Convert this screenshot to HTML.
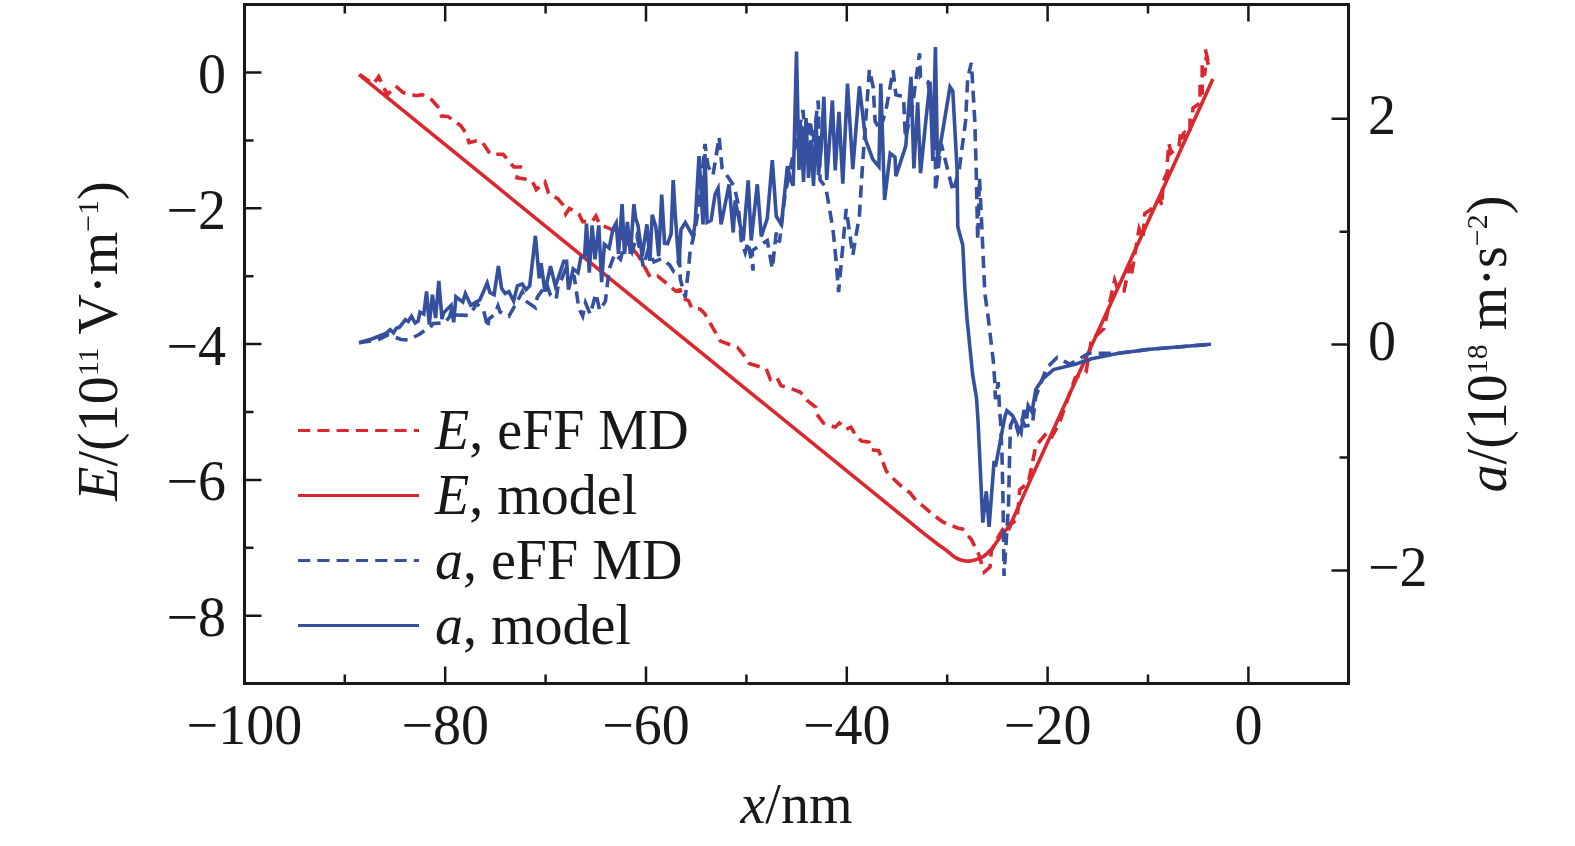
<!DOCTYPE html>
<html><head><meta charset="utf-8"><style>html,body{margin:0;padding:0;background:#fff;width:1575px;height:846px;overflow:hidden}svg{display:block;will-change:transform} text{-webkit-font-smoothing:antialiased} .rot{will-change:transform}</style></head>
<body><svg width="1575" height="846" viewBox="0 0 1575 846">
<path d="M359.6,74.5 373.4,84.0 378.7,76.6 387.2,94.7 395.7,86.2 403.2,92.6 416.0,95.7 422.3,94.7 431.9,100.0 439.4,108.5 441.5,116.0 447.9,116.4 460.6,125.5 466.0,133.0 469.1,142.6 475.5,141.0 481.9,141.5 490.4,154.3 503.2,154.3 513.8,167.0 520.2,167.0 517.0,177.7 530.0,179.8 532.6,181.9 536.3,189.5 544.9,181.9 548.6,193.2 558.0,198.9 562.8,204.6 565.7,214.0 569.4,208.4 578.9,214.0 582.7,221.6 592.1,221.6 595.9,216.0 599.7,224.4 611.0,229.2 622.4,238.6 633.7,250.0 638.5,256.0 642.8,263.4 650.2,277.2 657.7,276.2 668.3,284.7 675.7,291.1 680.0,290.0 683.2,298.5 688.5,300.6 691.7,308.1 700.2,309.1 704.5,313.4 716.2,333.6 720.4,341.1 737.4,347.4 742.8,353.8 749.1,363.4 766.2,368.7 770.4,379.4 776.8,377.2 781.0,385.7 791.7,388.9 800.2,392.1 807.4,400.6 816.0,407.4 817.0,414.5 823.4,423.0 835.1,427.2 839.4,423.0 845.7,429.4 851.0,427.2 856.4,436.8 861.7,441.1 869.1,442.1 871.3,449.6 878.7,450.6 881.9,459.1 886.2,470.9 889.4,475.1 902.8,487.7 909.9,492.7 915.6,499.8 934.0,515.4 942.6,521.8 958.2,528.2 962.4,528.9 971.4,539.6 978.5,553.8 984.2,572.0 990.0,567.0 991.3,551.0 998.4,536.7 1002.6,529.6 1007.0,533.0 1011.1,524.0 1016.8,519.7 1018.9,501.3 1019.6,489.9 1028.2,482.8 1031.0,470.0 1035.8,446.0 1045.0,435.0 1050.0,440.0 1059.0,424.0 1075.2,377.8 1086.0,372.3 1091.5,339.7 1103.8,328.8 1114.6,280.0 1118.4,291.0 1124.0,291.0 1129.7,264.5 1131.6,274.0 1139.1,228.6 1142.9,238.0 1144.8,213.5 1150.5,209.7 1160.0,198.4 1161.8,205.9 1163.0,182.0 1167.4,172.0 1167.4,161.0 1169.0,143.5 1171.0,153.0 1179.0,146.0 1181.0,130.0 1184.0,132.0 1182.0,138.0 1190.0,134.0 1190.0,116.0 1191.4,126.0 1193.0,108.0 1200.0,103.0 1200.0,85.0 1202.2,94.6 1202.2,65.0 1204.6,75.6 1206.3,56.6 1208.8,66.5 1207.1,56.6 1204.6,46.6" fill="none" stroke="#d9282e" stroke-width="3.6" stroke-dasharray="12.2 7.1"/>
<path d="M359.0,74.6 C406.0,112.8 453.0,151.0 500.0,189.2 C556.8,235.4 636.7,300.2 700.0,351.7 C763.3,403.1 846.7,470.8 880.0,497.9 C913.3,525.0 893.3,508.7 900.0,514.1 C906.7,519.5 914.3,525.8 920.0,530.4 C925.7,535.0 929.5,537.9 934.2,541.5 C938.9,545.1 944.9,549.3 948.4,552.0 C951.9,554.7 953.1,556.2 955.5,557.6 C957.9,559.0 960.2,559.8 962.6,560.4 C965.0,561.0 967.2,561.3 969.6,561.1 C972.0,560.9 974.3,560.2 976.7,559.4 C979.1,558.6 981.4,557.8 983.8,556.2 C986.2,554.6 988.2,552.9 990.9,549.8 C993.6,546.7 996.7,541.9 1000.0,537.5 C1003.3,533.1 1007.2,529.2 1010.6,523.3 C1014.0,517.4 1017.3,509.2 1020.6,502.0 C1023.9,494.8 1027.2,487.2 1030.4,480.0 C1033.6,472.8 1028.4,484.4 1040.0,458.9 C1051.6,433.4 1080.0,371.0 1100.0,327.1 C1120.0,283.2 1141.2,236.7 1160.0,195.3 C1177.6,156.5 1195.3,117.8 1212.9,79.0" fill="none" stroke="#d9282e" stroke-width="3.6"/>
<path d="M359.0,342.8 378.0,340.0 388.0,335.0 392.0,336.0 401.0,339.5 408.0,340.0 420.0,334.0 425.0,330.0 430.0,328.0 433.0,323.4 444.7,323.0 449.5,317.0 451.6,309.6 455.3,315.0 468.1,315.4 473.9,308.5 476.1,303.2 483.5,310.1 487.8,327.7 488.8,319.1 495.2,313.8 498.0,306.0 500.0,312.0 508.9,316.2 516.5,302.9 522.2,291.6 525.9,301.1 535.4,307.7 537.3,297.3 546.7,284.0 550.5,295.4 556.2,299.2 558.1,285.9 561.9,278.4 565.7,268.9 574.2,276.5 578.9,308.6 582.7,316.2 585.5,302.9 590.2,314.3 595.9,293.5 599.7,310.5 605.4,301.1 609.2,268.9 614.8,253.8 620.5,259.4 626.0,238.0 632.0,252.0 637.0,236.0 643.4,266.8 648.0,250.0 654.0,262.0 661.9,258.6 669.7,265.0 673.2,270.7 679.6,259.4 680.3,279.2 685.3,297.6 688.1,272.1 690.2,250.9 695.2,229.6 699.0,205.0 705.0,144.0 708.0,166.0 713.0,175.2 719.1,137.1 722.1,168.2 734.2,186.3 738.2,204.4 741.2,240.5 745.2,252.6 748.0,242.0 753.2,270.6 752.2,250.6 767.3,240.5 772.3,268.6 776.3,232.5 779.4,242.5 785.0,195.0 792.0,160.0 797.0,140.0 803.0,110.0 806.0,150.0 810.0,120.0 813.1,142.6 818.2,100.5 820.1,179.9 825.8,187.4 832.9,228.7 836.2,261.9 838.6,292.0 846.2,208.9 852.8,255.2 859.4,215.5 862.7,162.5 869.4,69.7 873.2,87.3 875.1,121.3 880.0,130.0 886.0,110.0 893.1,70.2 895.9,94.8 903.5,96.7 905.4,138.3 912.0,110.0 919.5,53.2 920.5,77.8 928.0,81.6 935.6,134.5 935.4,191.5 941.3,144.0 953.1,191.5 959.2,170.0 962.8,142.2 965.6,120.9 967.7,78.4 971.3,62.8 972.0,72.7 974.8,120.9 976.2,170.0 977.7,240.0 979.5,178.0 981.5,220.0 984.8,292.8 988.3,318.4 991.1,342.5 993.3,360.9 994.7,380.8 995.4,399.2 998.2,382.2 999.6,410.0 1000.5,421.0 1002.0,455.0 1003.0,500.0 1004.0,576.0 1008.5,505.0 1009.5,460.0 1010.5,425.5 1014.0,418.0 1018.0,432.0 1022.0,420.0 1025.2,426.0 1032.3,424.9 1035.8,396.5 1046.5,368.0 1057.1,357.4 1064.4,361.4 1069.8,364.2 1088.8,353.3 1118.7,353.3 1150.0,349.2 1211.0,344.3" fill="none" stroke="#34509f" stroke-width="3.6" stroke-dasharray="12.2 7.1" stroke-linejoin="miter"/>
<path d="M359.0,342.8 371.7,339.0 385.9,333.4 390.2,329.6 393.5,332.9 396.3,328.2 399.6,327.2 405.3,319.6 408.2,321.5 411.5,316.3 415.2,323.0 418.1,321.1 420.0,312.1 423.8,314.0 426.6,291.5 429.3,324.5 432.4,294.7 435.6,318.1 438.8,280.9 442.0,319.1 443.6,312.8 451.1,305.3 453.7,322.3 455.9,296.8 462.8,302.1 465.4,293.6 470.7,305.3 476.1,302.1 479.8,300.0 487.2,283.0 489.9,292.6 494.1,294.7 498.4,266.0 501.6,288.3 505.1,293.5 508.9,291.6 513.6,301.1 517.4,285.9 522.2,284.0 525.9,289.7 529.7,285.9 535.4,235.8 539.2,278.4 541.1,263.2 544.9,291.6 550.5,266.1 555.3,285.9 558.1,278.4 563.8,261.3 566.6,261.3 568.5,289.7 573.2,268.9 578.0,272.7 580.8,257.5 584.6,255.7 586.5,223.5 589.3,272.7 592.1,225.4 595.0,259.4 598.8,225.4 601.6,282.1 604.4,244.3 609.2,248.1 612.9,229.2 616.2,223.1 618.5,253.8 622.1,204.2 624.5,253.8 627.4,221.9 630.4,253.8 633.9,204.2 635.7,218.4 638.0,225.5 642.2,256.2 646.9,224.3 649.9,260.9 652.2,214.8 655.8,226.6 658.7,256.2 661.7,194.7 664.6,243.2 667.6,243.8 671.1,233.8 673.2,180.0 675.3,215.4 678.9,265.0 681.0,229.6 685.3,222.5 693.1,236.7 695.2,222.5 699.0,156.2 703.0,224.4 705.0,154.1 707.1,222.4 711.1,220.4 715.1,194.3 718.1,188.3 721.1,224.4 725.1,204.4 729.1,184.3 733.2,232.5 735.2,200.3 743.2,240.5 748.2,180.3 751.2,240.5 757.3,184.3 761.3,236.5 767.3,218.4 772.3,160.2 776.3,216.4 781.4,224.4 787.4,166.2 790.5,180.0 793.2,185.7 796.5,51.5 799.0,170.0 801.0,125.0 803.5,182.0 806.0,118.0 808.5,178.0 811.0,140.0 813.5,186.0 816.0,122.0 818.5,175.0 821.0,150.0 823.9,96.7 826.7,179.9 832.4,100.5 835.2,170.4 839.0,111.8 842.8,183.7 847.5,83.5 852.8,169.1 859.4,86.3 865.7,140.0 872.7,159.2 878.9,166.7 880.8,83.5 884.6,200.0 890.2,153.4 895.0,157.2 895.9,176.1 905.8,145.9 911.0,76.9 913.9,168.5 917.7,102.4 920.5,173.3 925.2,127.0 930.0,81.6 932.8,161.0 935.4,47.1 937.5,161.0 941.3,139.4 950.0,86.9 952.8,91.1 957.1,170.0 957.8,226.7 962.8,245.2 964.9,290.0 967.0,318.4 972.7,375.1 976.5,398.0 978.0,420.0 981.3,490.8 982.8,522.6 986.3,491.3 989.1,526.8 994.1,461.0 995.5,466.7 1004.8,417.0 1006.9,410.6 1012.6,415.6 1017.0,425.0 1021.1,432.6 1023.9,410.0 1026.7,418.4 1028.2,405.7 1032.0,412.0 1035.8,389.4 1043.0,378.7 1053.5,369.6 1075.2,364.2 1091.5,358.7 1118.7,353.3 1150.0,349.2 1211.0,344.3" fill="none" stroke="#34509f" stroke-width="3.6" stroke-linejoin="miter"/>
<rect x="244.5" y="4.5" width="1104.0" height="679.0" fill="none" stroke="#1a1718" stroke-width="3"/><path d="M344.8 683.5v-9M344.8 4.5v9M445.2 683.5v-17M445.2 4.5v17M545.6 683.5v-9M545.6 4.5v9M646.0 683.5v-17M646.0 4.5v17M746.4 683.5v-9M746.4 4.5v9M846.8 683.5v-17M846.8 4.5v17M947.2 683.5v-9M947.2 4.5v9M1047.6 683.5v-17M1047.6 4.5v17M1148.0 683.5v-9M1148.0 4.5v9M1248.4 683.5v-17M1248.4 4.5v17M244.5 615.7h17M244.5 547.8h9M244.5 479.9h17M244.5 412.0h9M244.5 344.1h17M244.5 276.2h9M244.5 208.3h17M244.5 140.4h9M244.5 72.5h17M1348.5 570.5h-17M1348.5 457.6h-9M1348.5 344.6h-17M1348.5 231.7h-9M1348.5 118.7h-17" stroke="#1a1718" stroke-width="2.5" fill="none"/><path d="M298 430.4H419" stroke="#d9282e" stroke-width="3" stroke-dasharray="12.2 7.1" fill="none"/><path d="M298 495.4H419" stroke="#d9282e" stroke-width="3"  fill="none"/><path d="M298 560.4H419" stroke="#34509f" stroke-width="3" stroke-dasharray="12.2 7.1" fill="none"/><path d="M298 625.4H419" stroke="#34509f" stroke-width="3"  fill="none"/>
<text x="244.4" y="744" text-anchor="middle" font-family="Liberation Serif" fill="#1a1718" font-size="56">−100</text><text x="445.2" y="744" text-anchor="middle" font-family="Liberation Serif" fill="#1a1718" font-size="56">−80</text><text x="646.0" y="744" text-anchor="middle" font-family="Liberation Serif" fill="#1a1718" font-size="56">−60</text><text x="846.8" y="744" text-anchor="middle" font-family="Liberation Serif" fill="#1a1718" font-size="56">−40</text><text x="1047.6" y="744" text-anchor="middle" font-family="Liberation Serif" fill="#1a1718" font-size="56">−20</text><text x="1248.4" y="744" text-anchor="middle" font-family="Liberation Serif" fill="#1a1718" font-size="56">0</text><text x="226" y="636.2" text-anchor="end" font-family="Liberation Serif" fill="#1a1718" font-size="56">−8</text><text x="226" y="500.4" text-anchor="end" font-family="Liberation Serif" fill="#1a1718" font-size="56">−6</text><text x="226" y="364.6" text-anchor="end" font-family="Liberation Serif" fill="#1a1718" font-size="56">−4</text><text x="226" y="228.8" text-anchor="end" font-family="Liberation Serif" fill="#1a1718" font-size="56">−2</text><text x="226" y="93.0" text-anchor="end" font-family="Liberation Serif" fill="#1a1718" font-size="56">0</text><text x="1368" y="586.0" text-anchor="start" font-family="Liberation Serif" fill="#1a1718" font-size="56">−2</text><text x="1368" y="360.1" text-anchor="start" font-family="Liberation Serif" fill="#1a1718" font-size="56">0</text><text x="1368" y="134.2" text-anchor="start" font-family="Liberation Serif" fill="#1a1718" font-size="56">2</text><text x="796.5" y="823" text-anchor="middle" font-family="Liberation Serif" fill="#1a1718" font-size="56"><tspan font-style="italic">x</tspan>/nm</text><text transform="translate(117,341) rotate(-90)" text-anchor="middle" font-family="Liberation Serif" fill="#1a1718" font-size="56"><tspan font-style="italic">E</tspan>/(10<tspan font-size="30" dy="-19">11</tspan><tspan dy="19"> V·m</tspan><tspan font-size="30" dy="-19">−1</tspan><tspan dy="19">)</tspan></text><text transform="translate(1505.5,344) rotate(-90)" text-anchor="middle" font-family="Liberation Serif" fill="#1a1718" font-size="56"><tspan font-style="italic">a</tspan>/(10<tspan font-size="30" dy="-19">18</tspan><tspan dy="19"> m·s</tspan><tspan font-size="30" dy="-19">−2</tspan><tspan dy="19">)</tspan></text><text x="435" y="448.9" font-family="Liberation Serif" fill="#1a1718" font-size="56"><tspan font-style="italic">E</tspan>, eFF MD</text><text x="435" y="513.9" font-family="Liberation Serif" fill="#1a1718" font-size="56"><tspan font-style="italic">E</tspan>, model</text><text x="435" y="578.9" font-family="Liberation Serif" fill="#1a1718" font-size="56"><tspan font-style="italic">a</tspan>, eFF MD</text><text x="435" y="643.9" font-family="Liberation Serif" fill="#1a1718" font-size="56"><tspan font-style="italic">a</tspan>, model</text>
</svg></body></html>
